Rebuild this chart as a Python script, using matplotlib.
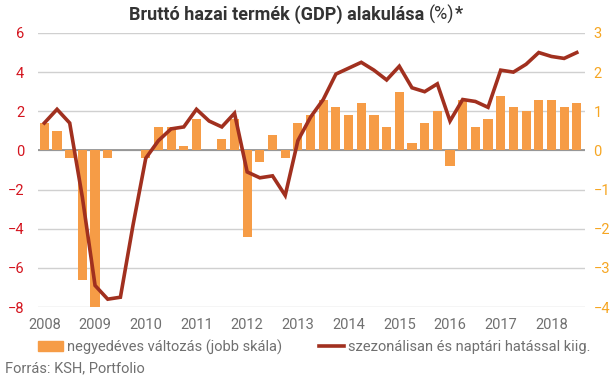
import matplotlib
matplotlib.use("Agg")
import matplotlib.pyplot as plt
import matplotlib.patches as mpatches
import matplotlib.lines as mlines
import numpy as np

plt.rcParams['font.family'] = ['Roboto', 'DejaVu Sans']

# quarters 2008Q1 .. 2018Q3
years = [str(y) for y in range(2008, 2019)]
quarters = [f"{y}Q{q}" for y in range(2008, 2019) for q in range(1, 5)][:43]

# negyedéves változás (jobb skála)
qoq = [0.7, 0.5, -0.2, -3.3, -4.0, -0.2, 0.0, 0.0,
       -0.2, 0.6, 0.6, 0.1, 0.8, 0.0, 0.3, 0.8,
       -2.2, -0.3, 0.4, -0.2, 0.7, 0.9, 1.3, 1.1,
       0.9, 1.2, 0.9, 0.6, 1.5, 0.2, 0.7, 1.0,
       -0.4, 1.3, 0.6, 0.8, 1.4, 1.1, 1.0, 1.3,
       1.3, 1.1, 1.2]

# szezonálisan és naptári hatással kiigazított
sa = [1.4, 2.1, 1.4, -2.4, -6.9, -7.6, -7.5, -3.8,
      -0.4, 0.5, 1.1, 1.2, 2.1, 1.5, 1.2, 1.9,
      -1.1, -1.4, -1.3, -2.3, 0.5, 1.7, 2.6, 3.9,
      4.2, 4.5, 4.1, 3.6, 4.3, 3.2, 3.0, 3.4,
      1.5, 2.6, 2.5, 2.2, 4.1, 4.0, 4.4, 5.0,
      4.8, 4.7, 5.0]

x = np.arange(len(quarters))

bar_col = '#F69C46'
line_col = '#A1301F'
grey = '#707070'

fig = plt.figure(figsize=(6.16, 3.78), dpi=100)
ax = fig.add_axes([0.0617, 0.1878, 0.888, 0.725])
ax2 = ax.twinx()

ax2.bar(x, qoq, width=0.72, color=bar_col, zorder=2)
ax2.set_ylim(-4, 3)
ax2.set_yticks(range(-4, 4))
ax2.grid(axis='y', color='#d0d0d0', linewidth=1)
ax2.set_axisbelow(True)
ax2.axhline(0, color='#8c8c8c', linewidth=1.2, zorder=1)

ax.plot(x, sa, color=line_col, linewidth=2.6, solid_joinstyle='miter', zorder=3)
ax.set_ylim(-8, 6)
ax.set_yticks(range(-8, 7, 2))
ax.set_xlim(-0.5, 42.65)
ax.set_xticks(x[::4])
ax.set_xticklabels(years)

ax.set_zorder(ax2.get_zorder() + 1)
ax.patch.set_visible(False)

for a in (ax, ax2):
    for s in a.spines.values():
        s.set_visible(False)
    a.tick_params(length=0)

ax.tick_params(axis='y', colors='#D4141E', labelsize=10.5, pad=10)
ax.tick_params(axis='x', colors=grey, labelsize=10.5, pad=8)
ax2.tick_params(axis='y', colors='#F6A623', labelsize=10.5, pad=6)

# title: bold part, regular "(%)", bold "*"
parts = [("Bruttó hazai termék (GDP) alakulása ", 'bold'), ("(%)", 'normal'), ("*", 'bold')]
r = fig.canvas.get_renderer()
texts = []
for s, w in parts:
    t = fig.text(0, 0.962, s, ha='left', va='center', fontsize=13, fontweight=w, color='#333333')
    texts.append(t)
widths = [t.get_window_extent(r).width for t in texts]
x0 = 296 - sum(widths) / 2
for t, w in zip(texts, widths):
    t.set_x(x0 / 616)
    x0 += w

h1 = mpatches.Patch(color=bar_col)
h2 = mlines.Line2D([], [], color=line_col, linewidth=2.6)
fig.legend([h1, h2], ["negyedéves változás (jobb skála)", "szezonálisan és naptári hatással kiig."],
           loc='center', bbox_to_anchor=(0.51, 1 - 347 / 378), ncol=2, frameon=False,
           fontsize=10.5, labelcolor=grey, handlelength=1.7, handleheight=0.7,
           handletextpad=0.3, columnspacing=2.5)

fig.text(0.008, 1 - 368 / 378, "Forrás: KSH, Portfolio", ha='left', va='center',
         fontsize=10.5, color=grey)

fig.savefig("out.png", dpi=100)
